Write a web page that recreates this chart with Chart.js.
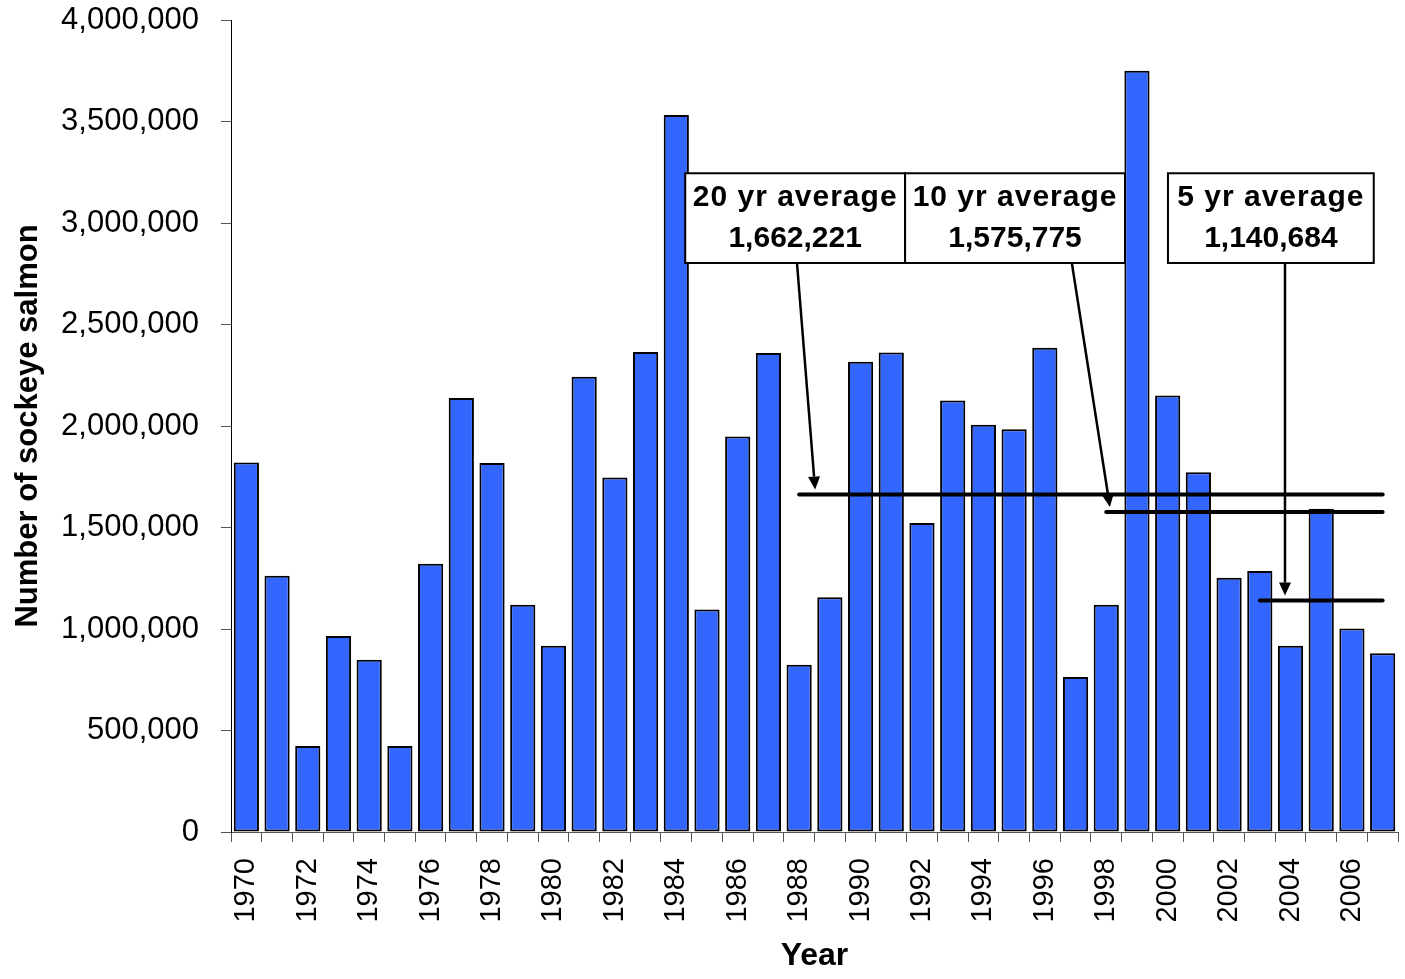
<!DOCTYPE html>
<html>
<head>
<meta charset="utf-8">
<script src="https://cdn.jsdelivr.net/npm/chart.js@4.4.1/dist/chart.umd.min.js"></script>
<style>
  html, body { margin: 0; padding: 0; background: #fff; }
  #wrap { width: 1405px; height: 979px; }
</style>
</head>
<body>
<div id="wrap"><canvas id="salmonChart"></canvas></div>
<script>
// data
const years = [];
for (let y = 1970; y <= 2007; y++) years.push(String(y));

const sockeye = [
  1820000, 1262000, 424000, 966000, 848000, 424000, 1322000, 2138000, 1818000, 1120000,
  918000, 2242000, 1746000, 2364000, 3532000, 1096000, 1948000, 2360000, 824000, 1156000,
  2316000, 2362000, 1522000, 2126000, 2006000, 1984000, 2386000, 764000, 1120000, 3750000,
  2150000, 1772000, 1252000, 1286000, 918000, 1592000, 1002000, 880000
];

const avgLabels = ['20 yr average', '10 yr average', '5 yr average'];
const avgValues = [1662221, 1575775, 1140684];
const avgStartYears = ['1988', '1998', '2003'];

// callout boxes: centre position in category units, arrow start/end in category units
const boxCenters = [17.87, 25.03, 33.36];
const arrowFrom = [17.93, 26.88, 33.82];
const arrowTo = [18.52, 28.12, 33.82];

const yTicks = [0, 500000, 1000000, 1500000, 2000000, 2500000, 3000000, 3500000, 4000000];

function avgSeries(startYear, value) {
  const start = years.indexOf(startYear);
  return years.map((y, i) => (i >= start ? value : null));
}

const lineSets = avgValues.map((v, k) => ({
  type: 'line',
  label: avgLabels[k],
  data: avgSeries(avgStartYears[k], v),
  borderColor: '#000',
  borderWidth: 4,
  borderCapStyle: 'round',
  pointRadius: 0,
  fill: false,
  spanGaps: false,
  order: 1
}));

const calloutPlugin = {
  id: 'callouts',
  afterDatasetsDraw(chart) {
    const ctx = chart.ctx;
    const xs = chart.scales.x;
    const ys = chart.scales.y;
    const boxTop = ys.getPixelForValue(3245000);
    const boxBottom = ys.getPixelForValue(2803000);
    const catW = xs.getPixelForValue(1) - xs.getPixelForValue(0);
    const boxW = [7.16 * catW, 7.16 * catW, 6.7 * catW];

    ctx.save();
    for (let k = 0; k < avgLabels.length; k++) {
      const cx = xs.getPixelForValue(boxCenters[k]);
      const left = cx - boxW[k] / 2;
      ctx.fillStyle = '#fff';
      ctx.fillRect(left, boxTop, boxW[k], boxBottom - boxTop);
      ctx.strokeStyle = '#000';
      ctx.lineWidth = 2;
      ctx.strokeRect(left, boxTop, boxW[k], boxBottom - boxTop);

      ctx.fillStyle = '#000';
      ctx.font = 'bold 30px "Liberation Sans", Arial, sans-serif';
      ctx.letterSpacing = '1px';
      ctx.textAlign = 'center';
      ctx.textBaseline = 'middle';
      ctx.fillText(avgLabels[k], cx, boxTop + 24);
      ctx.letterSpacing = '0px';
      ctx.fillText(avgValues[k].toLocaleString('en-US'), cx, boxTop + 65);

      // arrow
      const x1 = xs.getPixelForValue(arrowFrom[k]);
      const x2 = xs.getPixelForValue(arrowTo[k]);
      const y1 = boxBottom;
      const y2 = ys.getPixelForValue(avgValues[k]) - 5;
      const ang = Math.atan2(y2 - y1, x2 - x1);
      const headL = 13, headW = 6;
      const bx = x2 - headL * Math.cos(ang);
      const by = y2 - headL * Math.sin(ang);
      ctx.beginPath();
      ctx.moveTo(x1, y1);
      ctx.lineTo(bx, by);
      ctx.lineWidth = 2.5;
      ctx.stroke();
      ctx.beginPath();
      ctx.moveTo(x2, y2);
      ctx.lineTo(bx + headW * Math.sin(ang), by - headW * Math.cos(ang));
      ctx.lineTo(bx - headW * Math.sin(ang), by + headW * Math.cos(ang));
      ctx.closePath();
      ctx.fill();
    }
    ctx.restore();
  }
};

const ctx = document.getElementById('salmonChart').getContext('2d');
new Chart(ctx, {
  data: {
    labels: years,
    datasets: [
      {
        type: 'bar',
        label: 'Sockeye',
        data: sockeye,
        backgroundColor: '#3366FF',
        borderColor: '#000',
        borderWidth: 2,
        borderSkipped: false,
        categoryPercentage: 1.0,
        barPercentage: 0.82,
        order: 2
      },
      ...lineSets
    ]
  },
  options: {
    responsive: true,
    maintainAspectRatio: false,
    animation: false,
    layout: { padding: { top: 20, right: 7, left: 0, bottom: 0 } },
    plugins: {
      legend: { display: false },
      tooltip: { enabled: false }
    },
    scales: {
      x: {
        offset: true,
        grid: {
          offset: true,
          drawOnChartArea: false,
          drawTicks: true,
          tickLength: 10,
          color: '#555'
        },
        border: { color: '#555', width: 1 },
        ticks: {
          autoSkip: false,
          maxRotation: 90,
          minRotation: 90,
          padding: 16,
          color: '#000',
          font: { family: '"Liberation Sans", Arial, sans-serif', size: 29 },
          callback: function(val, i) { return i % 2 === 0 ? years[i] : ''; }
        },
        title: {
          display: true,
          text: 'Year',
          color: '#000',
          padding: { top: 0, bottom: 4 },
          font: { family: '"Liberation Sans", Arial, sans-serif', size: 32, weight: 'bold' }
        },
        afterFit: function(scale) {
          scale.height = 147;
          scale.paddingLeft = 0;
          scale.paddingRight = 0;
        }
      },
      y: {
        min: 0,
        max: 4000000,
        afterBuildTicks: function(scale) { scale.ticks = yTicks.map(v => ({ value: v })); },
        grid: {
          drawOnChartArea: false,
          drawTicks: true,
          tickLength: 10,
          color: '#555'
        },
        border: { color: '#000', width: 1 },
        ticks: {
          padding: 22,
          color: '#000',
          font: { family: '"Liberation Sans", Arial, sans-serif', size: 31 },
          callback: function(v) { return Number(v).toLocaleString('en-US'); }
        },
        title: {
          display: true,
          text: 'Number of sockeye salmon',
          color: '#000',
          padding: { top: 10, bottom: 0 },
          font: { family: '"Liberation Sans", Arial, sans-serif', size: 31, weight: 'bold' }
        },
        afterFit: function(scale) {
          scale.width = 231;
          scale.paddingTop = 0;
          scale.paddingBottom = 0;
        }
      }
    }
  },
  plugins: [calloutPlugin]
});
</script>
</body>
</html>
